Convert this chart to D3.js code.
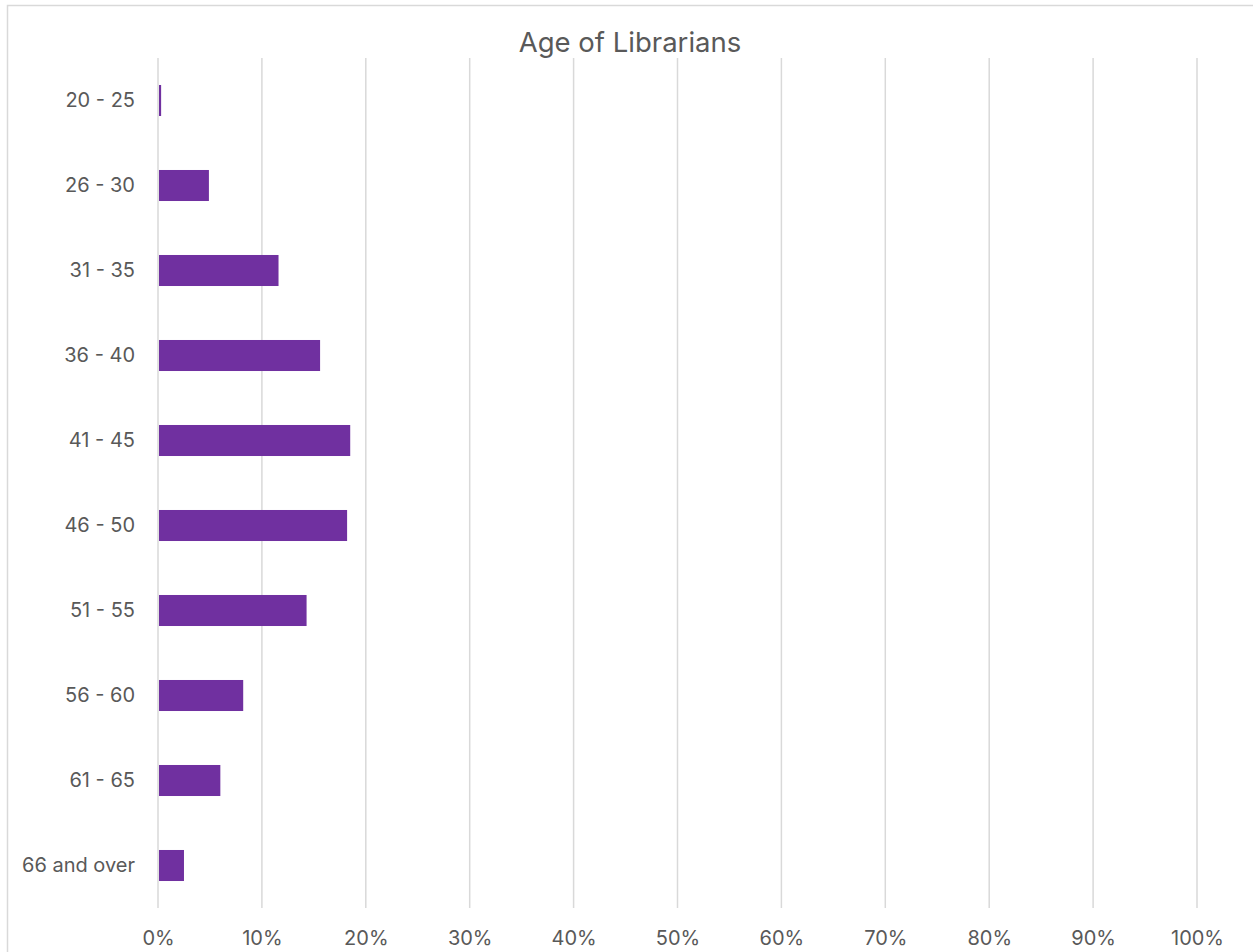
<!DOCTYPE html>
<html>
<head>
<meta charset="utf-8">
<script src="https://cdn.jsdelivr.net/npm/d3@7"></script>
<style>
  html, body { margin: 0; padding: 0; background: #fff; }
  svg { display: block; }
  text { font-family: Inter, "Liberation Sans", Arial, sans-serif; fill: #595959; }
</style>
</head>
<body>
<script>
const title = "Age of Librarians";
const categories = ["20 - 25", "26 - 30", "31 - 35", "36 - 40", "41 - 45", "46 - 50", "51 - 55", "56 - 60", "61 - 65", "66 and over"];
const values = [0.3, 4.9, 11.6, 15.6, 18.5, 18.2, 14.3, 8.2, 6.0, 2.5];
const tickValues = [0, 10, 20, 30, 40, 50, 60, 70, 80, 90, 100];

const W = 1253, H = 952;
const svg = d3.select("body").append("svg").attr("width", W).attr("height", H);

// chart border
svg.append("rect").attr("x", 7.5).attr("y", 5.5).attr("width", W + 10).attr("height", H + 10)
  .attr("fill", "#fff").attr("stroke", "#d9d9d9").attr("stroke-width", 1.5);

const plot = { left: 158, right: 1197, top: 58, bottom: 908 };
const x = d3.scaleLinear().domain([0, 100]).range([plot.left, plot.right]);
const y = d3.scaleBand().domain(categories).range([plot.top, plot.bottom]).paddingInner(0.635).paddingOuter(0.3175);

// gridlines
svg.append("g").selectAll("line").data(tickValues).join("line")
  .attr("x1", d => x(d)).attr("x2", d => x(d))
  .attr("y1", plot.top).attr("y2", plot.bottom)
  .attr("stroke", "#d9d9d9").attr("stroke-width", 1.5);

// bars
svg.append("g").selectAll("rect").data(values).join("rect")
  .attr("x", x(0) + 1)
  .attr("y", (d, i) => y(categories[i]))
  .attr("width", d => Math.max(0, x(d) - x(0) - 1))
  .attr("height", y.bandwidth())
  .attr("fill", "#7030a0");

// x axis labels
const xAxis = d3.axisBottom(x).tickValues(tickValues).tickFormat(d => d + "%").tickSize(0).tickPadding(0);
const gx = svg.append("g").attr("transform", `translate(0, ${plot.bottom + 23})`).call(xAxis);
gx.select(".domain").remove();
gx.selectAll("text").attr("font-size", 20).attr("font-family", null).attr("fill", "#595959").attr("dy", "0.71em");

// y axis labels
const yAxis = d3.axisLeft(y).tickSize(0).tickPadding(0);
const gy = svg.append("g").attr("transform", `translate(${plot.left - 23}, 0)`).call(yAxis);
gy.select(".domain").remove();
gy.selectAll("text").attr("font-size", 20).attr("font-family", null).attr("fill", "#595959");

// title
svg.append("text").attr("x", 630).attr("y", 52).attr("text-anchor", "middle")
  .attr("font-size", 27.5).text(title);
</script>
</body>
</html>
